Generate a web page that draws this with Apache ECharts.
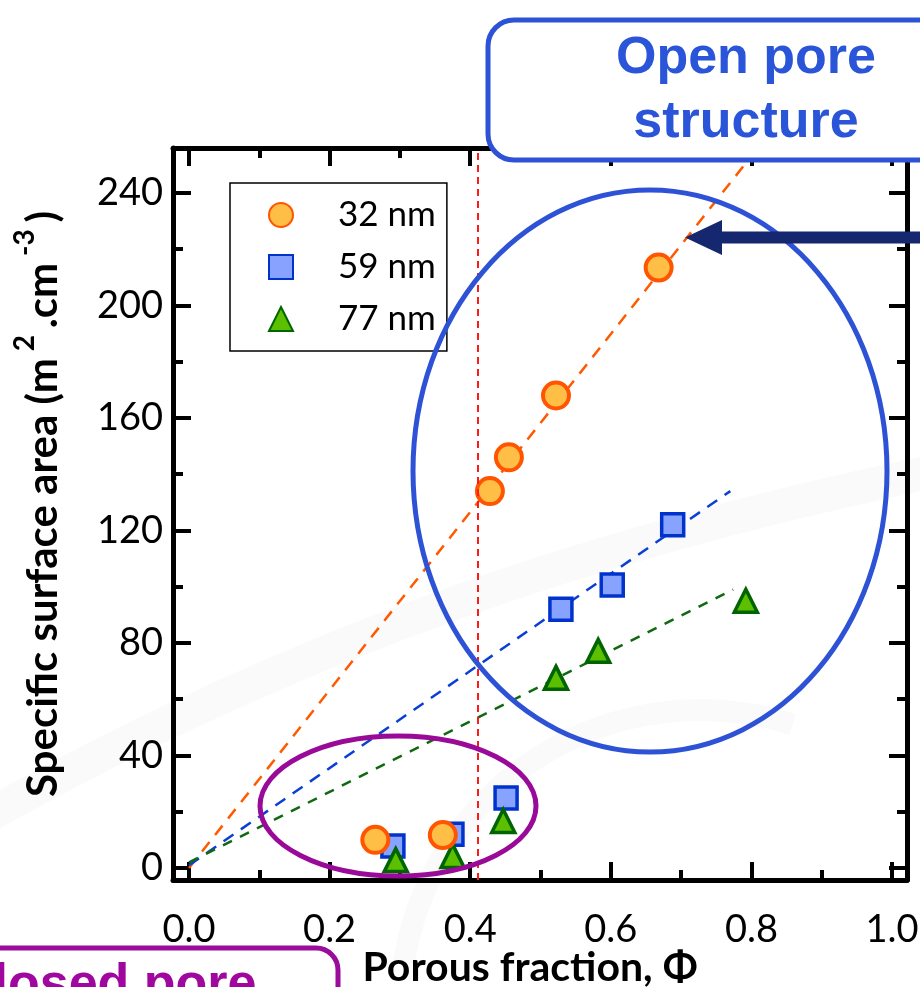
<!DOCTYPE html>
<html>
<head>
<meta charset="utf-8">
<script src="https://cdn.jsdelivr.net/npm/echarts@6/dist/echarts.min.js"></script>
<style>
  html, body { margin: 0; padding: 0; background: #fff; }
  #chart { width: 920px; height: 987px; }
</style>
</head>
<body>
<div id="chart"></div>
<script>
// specific surface area vs porous fraction, three particle sizes
const seriesNames = ['32 nm', '59 nm', '77 nm'];
const phi32 = [0.265, 0.361, 0.428, 0.455, 0.522, 0.668];
const ssa32 = [10, 11.7, 134, 146, 168, 213.5];
const phi59 = [0.290, 0.374, 0.451, 0.529, 0.602, 0.688];
const ssa59 = [7.8, 12, 24.9, 92, 100.6, 122];
const phi77 = [0.294, 0.375, 0.447, 0.522, 0.582, 0.792];
const ssa77 = [2.8, 4.3, 16.7, 67.6, 77.2, 95];
// dashed trend lines: [start, end]
const fit32 = [[0, 0], [0.79, 250]];
const fit59 = [[0, 1], [0.77, 134]];
const fit77 = [[0, 2], [0.774, 99]];
const phiCritical = 0.405; // red dashed line
const xTicks = [0, 0.2, 0.4, 0.6, 0.8, 1.0];
const xMinorTicks = [0.1, 0.3, 0.5, 0.7, 0.9];
const yTicks = [0, 40, 80, 120, 160, 200, 240];
const yMinorTicks = [20, 60, 100, 140, 180, 220];

const xMin = -0.0228, xMax = 1.0213;
const yMin = -4.27, yMax = 256;

const zip = (xs, ys) => xs.map((x, i) => [x, ys[i]]);

function makeX(pos, ticks, len, main) {
    return {
        type: 'value', gridIndex: 0, position: pos, min: xMin, max: xMax,
        axisLine: { show: main, onZero: false, lineStyle: { color: '#000', width: 5 } },
        axisTick: { show: true, inside: true, length: len, customValues: ticks, lineStyle: { color: '#000', width: 4 } },
        axisLabel: { show: false },
        splitLine: { show: false }
    };
}
function makeY(pos, ticks, len, main) {
    return {
        type: 'value', gridIndex: 0, position: pos, min: yMin, max: yMax,
        axisLine: { show: main, onZero: false, lineStyle: { color: '#000', width: 5 } },
        axisTick: { show: true, inside: true, length: len, customValues: ticks, lineStyle: { color: '#000', width: 4 } },
        axisLabel: { show: false },
        splitLine: { show: false }
    };
}

const xBottom = makeX('bottom', xTicks, 18, true);
xBottom.axisLabel = {
    show: true, customValues: xTicks, margin: 31,
    fontFamily: 'Lato', fontSize: 38, color: '#000',
    formatter: v => v.toFixed(1)
};
xBottom.name = 'Porous fraction, Φ';
xBottom.nameLocation = 'middle';
xBottom.nameGap = 67;
xBottom.nameMoveOverlap = false;
xBottom.nameTextStyle = { fontFamily: 'Lato', fontWeight: 'bold', fontSize: 41, color: '#000', padding: [0, 20, 0, 0] };

const yLeft = makeY('left', yTicks, 18, true);
yLeft.axisLabel = {
    show: true, customValues: yTicks, margin: 10,
    fontFamily: 'Lato', fontSize: 38, color: '#000'
};
yLeft.name = 'Specific surface area (m{sup| 2 }.cm{sup| -3 })';
yLeft.nameLocation = 'middle';
yLeft.nameGap = 98;
yLeft.nameMoveOverlap = false;
yLeft.nameTextStyle = {
    fontFamily: 'Lato', fontWeight: 'bold', fontSize: 42, color: '#000',
    padding: [0, 0, 0, 20],
    rich: {
        sup: { fontFamily: 'Lato', fontWeight: 'bold', fontSize: 28, color: '#000', padding: [0, 0, 36, 0] }
    }
};

const myChart = echarts.init(document.getElementById('chart'));
myChart.setOption({
    backgroundColor: '#fff',
    animation: false,
    grid: { left: 173, right: 13, top: 148, bottom: 107, containLabel: false, outerBoundsMode: 'none' },
    xAxis: [
        xBottom,
        makeX('bottom', xMinorTicks, 10, false),
        makeX('top', xTicks, 18, true),
        makeX('top', xMinorTicks, 10, false)
    ],
    yAxis: [
        yLeft,
        makeY('left', yMinorTicks, 10, false),
        makeY('right', yTicks, 18, true),
        makeY('right', yMinorTicks, 10, false)
    ],
    legend: {
        data: seriesNames,
        orient: 'vertical',
        left: 230, top: 183,
        padding: [12, 11, 12, 38],
        itemGap: 12,
        itemWidth: 24, itemHeight: 24,
        borderColor: '#000', borderWidth: 1.5,
        backgroundColor: '#fff',
        textStyle: { fontFamily: 'Lato', fontSize: 35, color: '#000', lineHeight: 40, padding: [0, 0, 0, 40] }
    },
    series: [
        {
            name: 'fit32', type: 'line', data: fit32, showSymbol: false, silent: true, z: 1,
            lineStyle: { color: '#ff5a00', width: 2.5, type: [12, 9] },
            markLine: {
                silent: true, symbol: 'none', label: { show: false },
                lineStyle: { color: '#ff1a1a', width: 2, type: [7, 5] },
                data: [{ xAxis: phiCritical }]
            }
        },
        {
            name: 'fit59', type: 'line', data: fit59, showSymbol: false, silent: true, z: 1,
            lineStyle: { color: '#0a3fd6', width: 2.5, type: [12, 9] }
        },
        {
            name: 'fit77', type: 'line', data: fit77, showSymbol: false, silent: true, z: 1,
            lineStyle: { color: '#0f6a0f', width: 2.5, type: [10, 9] }
        },
        {
            name: '32 nm', type: 'scatter', data: zip(phi32, ssa32), z: 4,
            symbol: 'circle', symbolSize: 26,
            itemStyle: { color: '#ffbe45', borderColor: '#ff5500', borderWidth: 4, opacity: 1 }
        },
        {
            name: '59 nm', type: 'scatter', data: zip(phi59, ssa59), z: 3,
            symbol: 'rect', symbolSize: 22,
            itemStyle: { color: '#88a3ff', borderColor: '#0033cc', borderWidth: 3.5, opacity: 1 }
        },
        {
            name: '77 nm', type: 'scatter', data: zip(phi77, ssa77), z: 3,
            symbol: 'triangle', symbolSize: 23,
            itemStyle: { color: '#5cc000', borderColor: '#006400', borderWidth: 3.5, opacity: 1 }
        }
    ],
    graphic: [
        // faint background swoosh
        { type: 'bezierCurve', shape: { x1: -20, y1: 820, cpx1: 300, cpy1: 640, cpx2: 600, cpy2: 540, x2: 940, y2: 470 }, style: { fill: 'none', stroke: 'rgba(0,0,0,0.02)', lineWidth: 34 }, z: -10, silent: true },
        { type: 'arc', shape: { cx: 700, cy: 1010, r: 300, startAngle: Math.PI * 1.05, endAngle: Math.PI * 1.6 }, style: { fill: 'none', stroke: 'rgba(0,0,0,0.018)', lineWidth: 22 }, z: -10, silent: true },
        { type: 'ellipse', shape: { cx: 650, cy: 471, rx: 237, ry: 281 }, style: { fill: 'none', stroke: '#2d52d6', lineWidth: 5 }, z: 50, silent: true },
        { type: 'ellipse', shape: { cx: 398, cy: 806, rx: 138, ry: 70 }, style: { fill: 'none', stroke: '#990a99', lineWidth: 5 }, z: 50, silent: true },
        { type: 'polygon', shape: { points: [[925, 231.5], [722, 231.5], [722, 220], [685, 237.5], [722, 255], [722, 243.5], [925, 243.5]] }, style: { fill: '#15276f' }, z: 50, silent: true },
        { type: 'rect', shape: { x: 488, y: 20, width: 520, height: 140, r: 26 }, style: { fill: '#fff', stroke: '#2d52d6', lineWidth: 5 }, z: 60, silent: true },
        { type: 'text', x: 746, y: 27, style: { text: 'Open pore\nstructure', fontFamily: 'Liberation Sans', fontWeight: 'bold', fontSize: 52, lineHeight: 64, fill: '#2b55d9', align: 'center', verticalAlign: 'top' }, z: 61, silent: true },
        { type: 'rect', shape: { x: -60, y: 948, width: 398, height: 120, r: 22 }, style: { fill: '#fff', stroke: '#9a0c9a', lineWidth: 5 }, z: 60, silent: true },
        { type: 'text', x: -44, y: 960, style: { text: 'Closed pore', fontFamily: 'Liberation Sans', fontWeight: 'bold', fontSize: 52, fill: '#a0079f', align: 'left', verticalAlign: 'top' }, z: 61, silent: true }
    ]
});
</script>
</body>
</html>
